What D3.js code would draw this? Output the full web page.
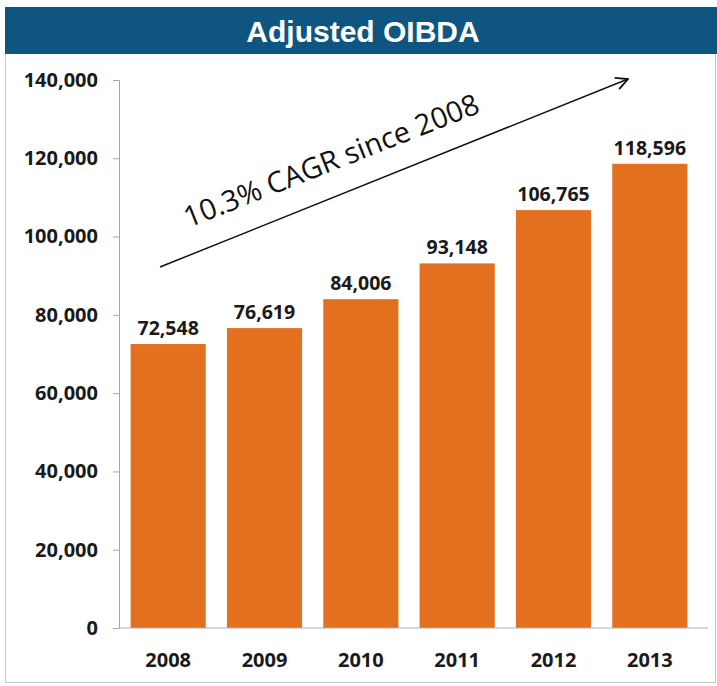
<!DOCTYPE html>
<html>
<head>
<meta charset="utf-8">
<script src="https://cdn.jsdelivr.net/npm/d3@7"></script>
<style>
  body { margin: 0; background: #fff; }
  svg { display: block; }
</style>
</head>
<body>
<svg id="chart" width="717" height="686"></svg>
<script>
const years = ["2008", "2009", "2010", "2011", "2012", "2013"];
const oibda = [72548, 76619, 84006, 93148, 106765, 118596];
const yTicks = [0, 20000, 40000, 60000, 80000, 100000, 120000, 140000];
const title = "Adjusted OIBDA";
const note = "10.3% CAGR since 2008";

const svg = d3.select("#chart");
const fmt = d3.format(",");

// frame + title bar
svg.append("rect")
    .attr("x", 5.5).attr("y", 7.5)
    .attr("width", 710).attr("height", 675)
    .attr("fill", "none").attr("stroke", "#c8c8c8");

svg.append("rect")
    .attr("x", 5).attr("y", 7)
    .attr("width", 712).attr("height", 47)
    .attr("fill", "#0e5582");

svg.append("text")
    .attr("x", 363).attr("y", 42)
    .attr("text-anchor", "middle")
    .style("font-family", "'Liberation Sans', Arial, sans-serif")
    .style("font-weight", "bold")
    .style("font-size", "30px")
    .style("fill", "#fff")
    .text(title);

const x = d3.scaleBand().domain(years).range([120, 698]).paddingInner(0.22).paddingOuter(0.11);
const y = d3.scaleLinear().domain([0, 140000]).range([628, 80]);

const labelFont = "'Open Sans', 'DejaVu Sans', sans-serif";

// y axis
const yAxis = svg.append("g")
    .attr("transform", "translate(119,0)")
    .call(d3.axisLeft(y).tickValues(yTicks).tickFormat(fmt).tickSize(6).tickPadding(15));
yAxis.select(".domain").attr("stroke", "#a6a6a6");
yAxis.selectAll(".tick line").attr("stroke", "#a6a6a6");
yAxis.selectAll("text")
    .style("font-family", labelFont)
    .style("font-weight", "bold")
    .style("font-size", "20px")
    .style("fill", "#1a1a1a");

// bars
svg.selectAll(".bar").data(oibda).enter().append("rect")
    .attr("class", "bar")
    .attr("x", (d, i) => x(years[i]))
    .attr("y", d => y(d))
    .attr("width", x.bandwidth())
    .attr("height", d => y(0) - y(d))
    .attr("fill", "#e2701f");

// x axis
const xAxis = svg.append("g")
    .attr("transform", "translate(0,628)")
    .call(d3.axisBottom(x).tickSize(0).tickPadding(25));
xAxis.select(".domain").attr("stroke", "#b0b0b0").attr("d", "M119,0H708");
xAxis.selectAll("text")
    .style("font-family", labelFont)
    .style("font-weight", "bold")
    .style("font-size", "20px")
    .style("fill", "#1a1a1a");

// value labels
svg.selectAll(".val").data(oibda).enter().append("text")
    .attr("class", "val")
    .attr("x", (d, i) => x(years[i]) + x.bandwidth() / 2)
    .attr("y", d => y(d) - 9)
    .attr("text-anchor", "middle")
    .style("font-family", labelFont)
    .style("font-weight", "bold")
    .style("font-size", "19.5px")
    .style("fill", "#1a1a1a")
    .text(fmt);

// CAGR arrow
svg.append("defs").append("marker")
    .attr("id", "arrow")
    .attr("viewBox", "0 0 10 10")
    .attr("refX", 9).attr("refY", 5)
    .attr("markerWidth", 15).attr("markerHeight", 15)
    .attr("markerUnits", "userSpaceOnUse")
    .attr("orient", "auto")
    .append("path")
    .attr("d", "M1,1L9,5L1,9")
    .attr("fill", "none")
    .attr("stroke", "#111")
    .attr("stroke-width", 1.2);

svg.append("line")
    .attr("x1", 160).attr("y1", 267)
    .attr("x2", 628).attr("y2", 79)
    .attr("stroke", "#111")
    .attr("stroke-width", 1.5)
    .attr("marker-end", "url(#arrow)");

svg.append("text")
    .attr("transform", "translate(335,170) rotate(-21.6)")
    .attr("text-anchor", "middle")
    .style("font-family", labelFont)
    .style("font-size", "29px")
    .style("fill", "#111")
    .text(note);
</script>
</body>
</html>
